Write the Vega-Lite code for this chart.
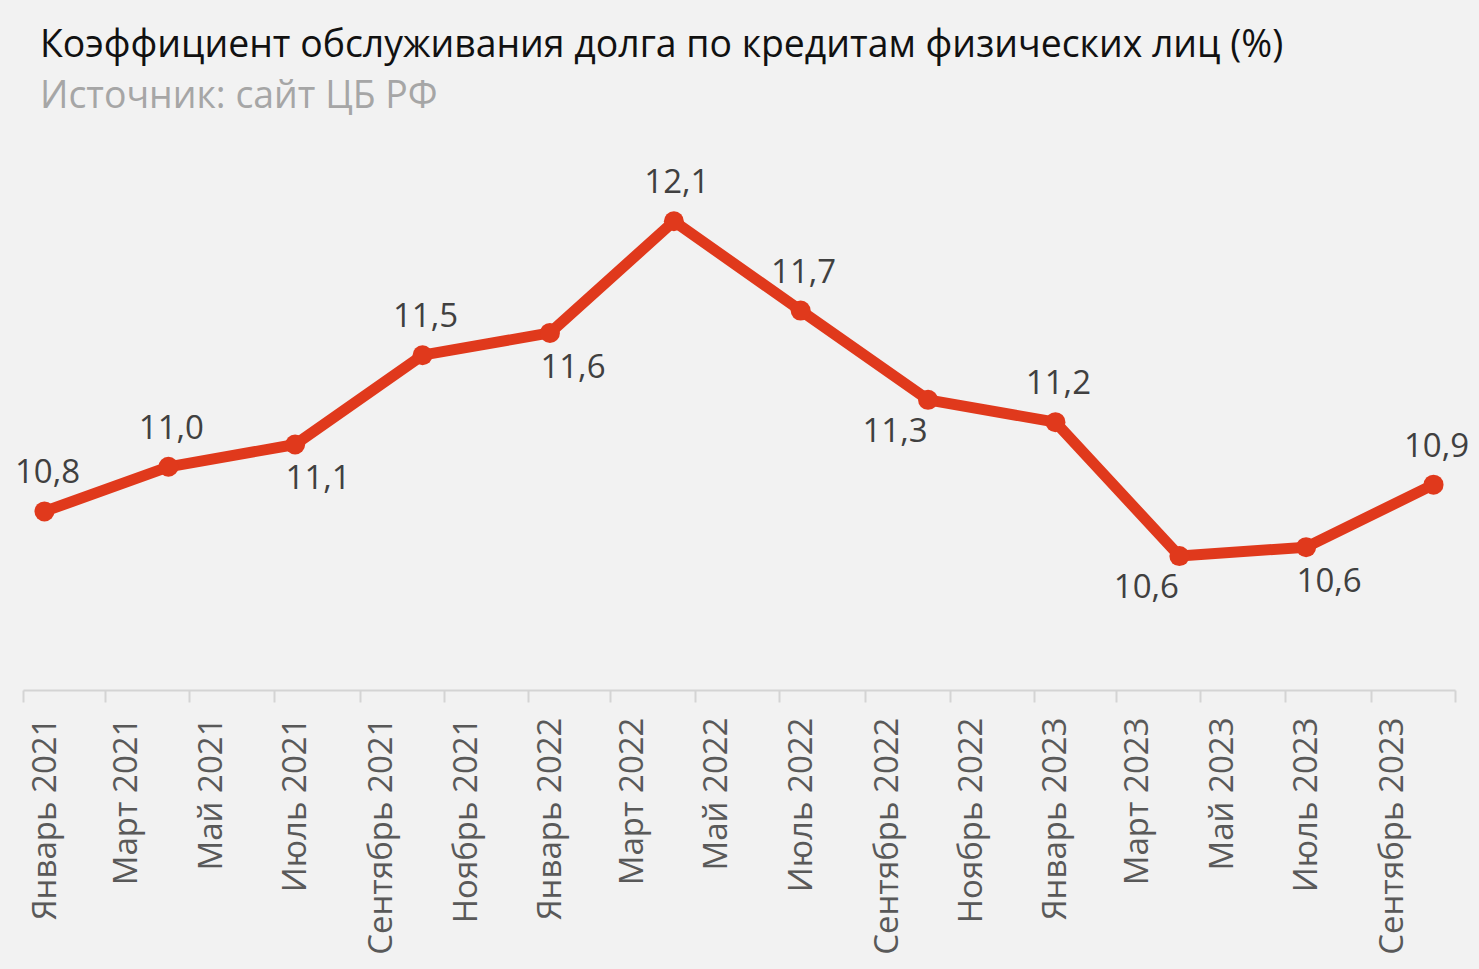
{
  "$schema": "https://vega.github.io/schema/vega-lite/v6.json",
  "autosize": {"type": "none"},
  "padding": {"left": 23, "right": 24, "top": 132, "bottom": 279},
  "width": 1432,
  "height": 558,
  "background": "#f2f2f2",
  "title": {
    "text": "Коэффициент обслуживания долга по кредитам физических лиц (%)",
    "subtitle": "Источник: сайт ЦБ РФ",
    "anchor": "start",
    "frame": "group",
    "dx": 17,
    "offset": 17,
    "font": "Open Sans",
    "fontSize": 37.4,
    "fontWeight": "normal",
    "color": "#111111",
    "subtitleFont": "Open Sans",
    "subtitleFontSize": 37.4,
    "subtitleColor": "#a6a6a6",
    "subtitlePadding": 13
  },
  "config": {
    "view": {"stroke": null},
    "font": "Open Sans"
  },
  "data": {
    "values": [
      {"date": "2021-01-01", "value": 10.8, "label": "10,8", "place": "above"},
      {"date": "2021-04-01", "value": 11.0, "label": "11,0", "place": "above"},
      {"date": "2021-07-01", "value": 11.1, "label": "11,1", "place": "belowright"},
      {"date": "2021-10-01", "value": 11.5, "label": "11,5", "place": "above"},
      {"date": "2022-01-01", "value": 11.6, "label": "11,6", "place": "belowright"},
      {"date": "2022-04-01", "value": 12.1, "label": "12,1", "place": "above"},
      {"date": "2022-07-01", "value": 11.7, "label": "11,7", "place": "above"},
      {"date": "2022-10-01", "value": 11.3, "label": "11,3", "place": "belowleft"},
      {"date": "2023-01-01", "value": 11.2, "label": "11,2", "place": "above"},
      {"date": "2023-04-01", "value": 10.6, "label": "10,6", "place": "belowleft"},
      {"date": "2023-07-01", "value": 10.64, "label": "10,6", "place": "belowright"},
      {"date": "2023-10-01", "value": 10.92, "label": "10,9", "place": "above"}
    ]
  },
  "encoding": {
    "x": {
      "field": "date",
      "type": "temporal",
      "timeUnit": "utcyearmonth",
      "bandPosition": 0.5,
      "scale": {
        "domain": [
          {"year": 2021, "month": 1, "date": 1, "utc": true},
          {"year": 2023, "month": 11, "date": 1, "utc": true}
        ]
      },
      "axis": {
        "title": null,
        "values": [
          {"year": 2021, "month": 1, "date": 1, "utc": true},
          {"year": 2021, "month": 3, "date": 1, "utc": true},
          {"year": 2021, "month": 5, "date": 1, "utc": true},
          {"year": 2021, "month": 7, "date": 1, "utc": true},
          {"year": 2021, "month": 9, "date": 1, "utc": true},
          {"year": 2021, "month": 11, "date": 1, "utc": true},
          {"year": 2022, "month": 1, "date": 1, "utc": true},
          {"year": 2022, "month": 3, "date": 1, "utc": true},
          {"year": 2022, "month": 5, "date": 1, "utc": true},
          {"year": 2022, "month": 7, "date": 1, "utc": true},
          {"year": 2022, "month": 9, "date": 1, "utc": true},
          {"year": 2022, "month": 11, "date": 1, "utc": true},
          {"year": 2023, "month": 1, "date": 1, "utc": true},
          {"year": 2023, "month": 3, "date": 1, "utc": true},
          {"year": 2023, "month": 5, "date": 1, "utc": true},
          {"year": 2023, "month": 7, "date": 1, "utc": true},
          {"year": 2023, "month": 9, "date": 1, "utc": true},
          {"year": 2023, "month": 11, "date": 1, "utc": true}
        ],
        "labelExpr": "(utcyear(datum.value) == 2023 && utcmonth(datum.value) == 10) ? '' : ['Январь','Февраль','Март','Апрель','Май','Июнь','Июль','Август','Сентябрь','Октябрь','Ноябрь','Декабрь'][utcmonth(datum.value)] + ' ' + utcyear(datum.value)",
        "labelAngle": -90,
        "labelAlign": "right",
        "labelBaseline": "middle",
        "labelOffset": 22,
        "labelPadding": 15,
        "labelFont": "Open Sans",
        "labelFontSize": 33,
        "labelColor": "#595959",
        "labelLimit": 500,
        "labelOverlap": false,
        "labelBound": false,
        "labelFlush": false,
        "domainColor": "#d4d4d4",
        "domainWidth": 2,
        "tickColor": "#d4d4d4",
        "tickWidth": 2,
        "tickSize": 12,
        "grid": false
      }
    },
    "y": {
      "field": "value",
      "type": "quantitative",
      "scale": {"domain": [10, 12.5], "zero": false, "nice": false},
      "axis": null
    }
  },
  "layer": [
    {
      "mark": {"type": "line", "color": "#e0391c", "strokeWidth": 11, "strokeJoin": "round"}
    },
    {
      "mark": {"type": "point", "filled": true, "opacity": 1, "color": "#e0391c", "size": 400}
    },
    {
      "transform": [{"filter": "datum.place == 'above'"}],
      "mark": {"type": "text", "font": "Open Sans", "fontSize": 33, "color": "#404040", "baseline": "alphabetic", "align": "center", "dx": 3, "dy": -28},
      "encoding": {"text": {"field": "label"}}
    },
    {
      "transform": [{"filter": "datum.place == 'belowright'"}],
      "mark": {"type": "text", "font": "Open Sans", "fontSize": 33, "color": "#404040", "baseline": "alphabetic", "align": "center", "dx": 23, "dy": 45},
      "encoding": {"text": {"field": "label"}}
    },
    {
      "transform": [{"filter": "datum.place == 'belowleft'"}],
      "mark": {"type": "text", "font": "Open Sans", "fontSize": 33, "color": "#404040", "baseline": "alphabetic", "align": "center", "dx": -33, "dy": 42},
      "encoding": {"text": {"field": "label"}}
    }
  ]
}
